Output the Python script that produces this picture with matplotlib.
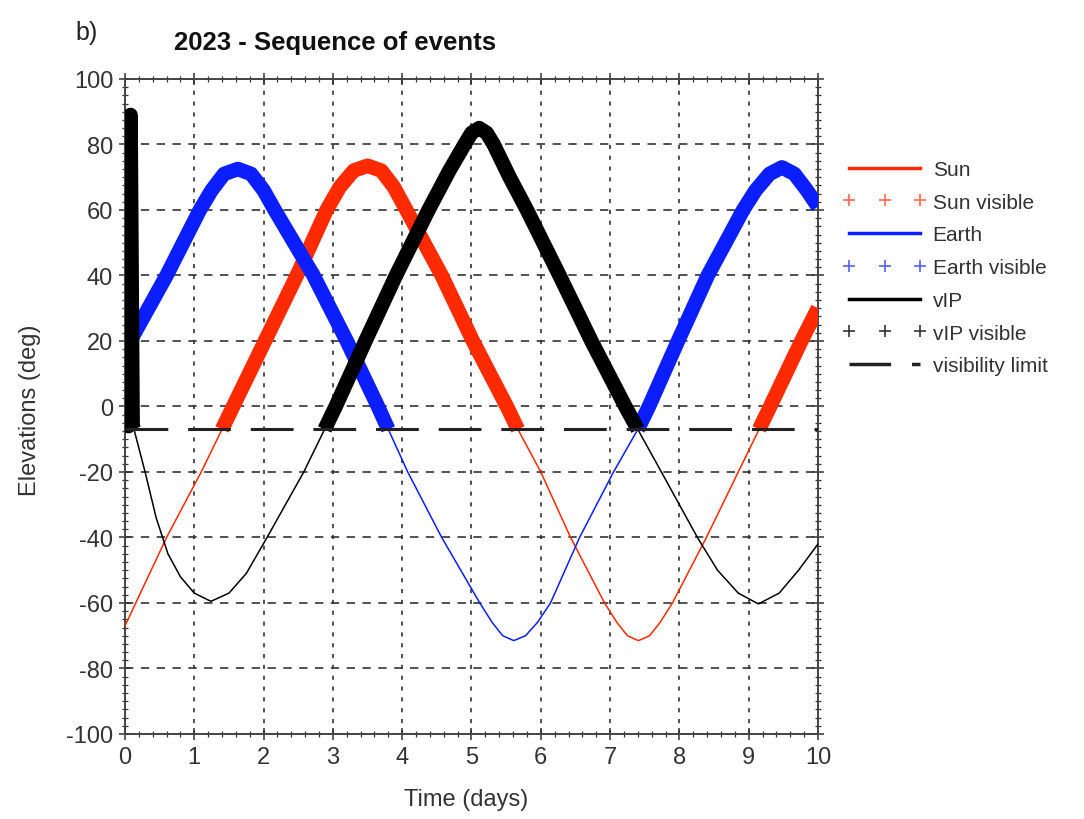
import numpy as np
import matplotlib
matplotlib.use("Agg")
import matplotlib.pyplot as plt
from matplotlib.lines import Line2D
from matplotlib.ticker import MultipleLocator

plt.rcParams['font.family'] = ['Liberation Sans', 'DejaVu Sans']
plt.rcParams['axes.unicode_minus'] = False

# elevation curves (days, deg)
sun_t = [0.0, 0.6, 1.1, 1.4, 1.56, 2.02, 2.48, 2.91, 3.1, 3.3, 3.5, 3.7, 3.88, 4.06,
         4.57, 5.02, 5.51, 5.67, 6.0, 6.43, 6.92, 7.1, 7.25, 7.41, 7.57, 7.72, 7.9,
         8.39, 8.85, 9.15, 9.31, 9.76, 10.0]
sun_el = [-67, -40, -20, -7, 0, 20, 40, 60, 67, 72, 73.5, 72, 67, 60,
          40, 20, 0, -7, -20, -40, -60, -66, -70, -71.5, -70, -66, -60,
          -40, -20, -7, 0, 20, 30]

earth_t = [0.05, 0.6, 1.08, 1.25, 1.43, 1.63, 1.82, 2.0, 2.16, 2.72, 3.2, 3.65, 3.8,
           4.08, 4.57, 5.12, 5.3, 5.45, 5.61, 5.78, 5.95, 6.14, 6.56, 7.05, 7.4,
           7.56, 7.98, 8.41, 8.92, 9.1, 9.3, 9.48, 9.66, 9.84, 10.0]
earth_el = [19, 40, 60, 66, 71, 72.5, 71, 66, 60, 40, 20, 0, -7,
            -20, -40, -60, -66, -70, -71.5, -70, -66, -60, -40, -20, -7,
            0, 20, 40, 60, 66, 71, 73, 71, 66, 61]

vip_t = [0.02, 0.05, 0.08, 0.11, 0.13, 0.29, 0.45, 0.62, 0.8, 1.0, 1.24, 1.5, 1.75,
         2.05, 2.58, 2.88, 3.04, 3.47, 3.91, 4.38, 4.68, 4.9, 5.0, 5.11, 5.22, 5.32,
         5.55, 5.8, 6.27, 6.73, 7.22, 7.4, 7.74, 8.26, 8.55, 8.85, 9.14, 9.44, 9.72,
         10.0]
vip_el = [88, -6, 89, -6, -7, -20, -34, -45, -52, -57, -59.5, -57, -51,
          -40, -20, -7, 0, 20, 40, 60, 72, 80, 83.5, 85, 83.5, 80,
          70, 60, 40, 20, 0, -7, -20, -40, -50, -57, -60.3, -57, -50,
          -42]

vis_limit = -7

RED = '#ff2a00'
BLUE = '#0a1eff'
BLACK = '#000000'

fig = plt.figure(figsize=(10.84, 8.2), dpi=100)
ax = fig.add_axes([0.1153, 0.1037, 0.6393, 0.7988])

series = [(sun_t, sun_el, RED), (earth_t, earth_el, BLUE), (vip_t, vip_el, BLACK)]
for t, el, c in series:
    t = np.array(t)
    el = np.array(el, dtype=float)
    ax.plot(t, el, color=c, lw=1.1, zorder=3, solid_joinstyle='round')
    vis = np.where(el >= vis_limit, el, np.nan)
    ax.plot(t, vis, color=c, lw=10.5, solid_capstyle='butt',
            solid_joinstyle='round', zorder=4)

ax.axhline(vis_limit, color='#222222', lw=2.2, ls=(0, (14, 6.5)), zorder=5)

ax.set_xlim(0, 10)
ax.set_ylim(-100, 100)
ax.xaxis.set_major_locator(MultipleLocator(1))
ax.xaxis.set_minor_locator(MultipleLocator(0.2))
ax.yaxis.set_major_locator(MultipleLocator(20))
ax.yaxis.set_minor_locator(MultipleLocator(2.5))

ax.grid(True, axis='y', which='major', color='#333333', lw=1.2, ls=(0, (5, 4.5)))
ax.grid(True, axis='x', which='major', color='#333333', lw=1.2, ls=(0, (2.5, 4)))
ax.set_axisbelow(True)

ax.tick_params(which='major', direction='inout', length=9, width=1.1, color='#333333',
               labelsize=17, labelcolor='#333333', pad=4)
ax.tick_params(which='minor', direction='inout', length=5, width=0.9, color='#333333')
ax.tick_params(which='both', top=True, right=True)
for s in ax.spines.values():
    s.set_color('#444444')
    s.set_linewidth(1.4)

fig.text(466 / 1084, 1 - 800 / 820, 'Time (days)', fontsize=17, color='#333333',
         ha='center', va='center')
fig.text(30 / 1084, 1 - 410 / 820, 'Elevations (deg)', fontsize=17, color='#333333',
         ha='center', va='center', rotation=90)
fig.text(335 / 1084, 1 - 43 / 820, '2023 - Sequence of events', fontsize=18.5,
         fontweight='bold', color='#111111', ha='center', va='center')
fig.text(75 / 1084, 1 - 33 / 820, 'b)', fontsize=18, color='#222222',
         ha='left', va='center')

handles = [
    Line2D([], [], color=RED, lw=2.5),
    Line2D([], [], color=RED, ls='none', marker='+', ms=9, mew=1.2, alpha=0.7),
    Line2D([], [], color=BLUE, lw=2.5),
    Line2D([], [], color=BLUE, ls='none', marker='+', ms=9, mew=1.2, alpha=0.7),
    Line2D([], [], color=BLACK, lw=2.5),
    Line2D([], [], color=BLACK, ls='none', marker='+', ms=9, mew=1.2, alpha=0.8),
    Line2D([], [], color='#222222', lw=2.5, ls=(0, (12, 6))),
]
labels = ['Sun', 'Sun visible', 'Earth', 'Earth visible', 'vIP', 'vIP visible',
          'visibility limit']
fig.legend(handles, labels, loc='upper left', bbox_to_anchor=(843 / 1084, 1 - 161 / 820),
           frameon=False, fontsize=15, handlelength=4.0, handletextpad=0.3,
           labelspacing=0.66, numpoints=3, borderaxespad=0, borderpad=0,
           labelcolor='#333333')

fig.savefig('out.png', dpi=100)
